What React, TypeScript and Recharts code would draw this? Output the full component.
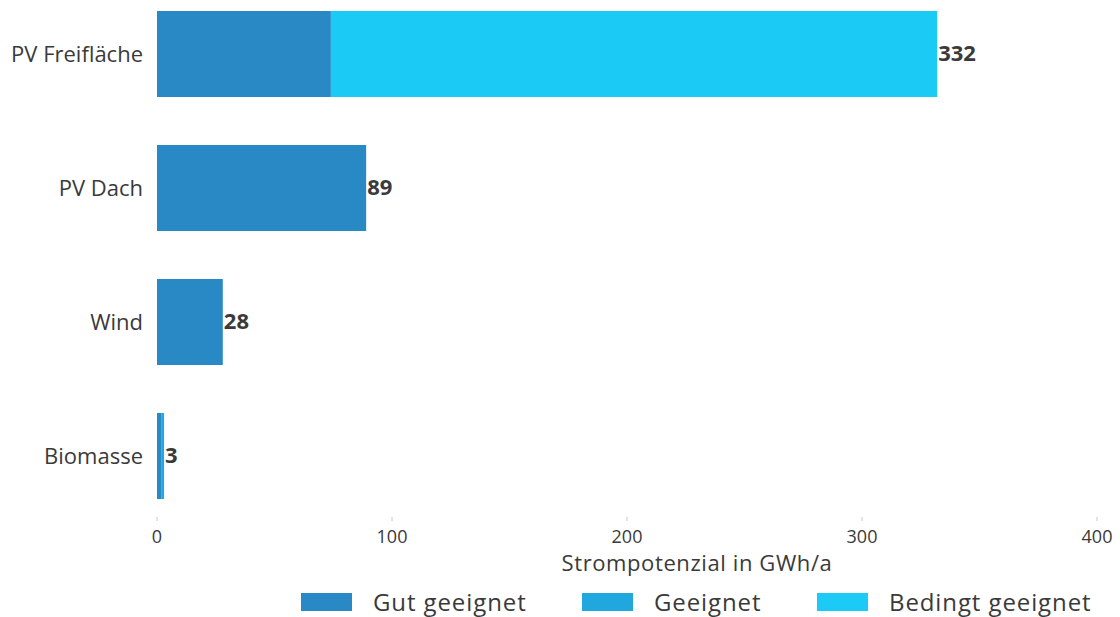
import { BarChart, Bar, XAxis, YAxis, LabelList, Legend } from 'recharts';

// Strompotenzial je Energieträger (GWh/a)
const categories = ['PV Freifläche', 'PV Dach', 'Wind', 'Biomasse'];
const gutGeeignet = [74, 89, 28, 2];
const geeignet = [0, 0, 0, 1];
const bedingtGeeignet = [258, 0, 0, 0];
const xTicks = [0, 100, 200, 300, 400];

const series = [
  { key: 'gut', name: 'Gut geeignet', color: '#2889c5' },
  { key: 'geeignet', name: 'Geeignet', color: '#20a8de' },
  { key: 'bedingt', name: 'Bedingt geeignet', color: '#1ccaf6' },
];

const data = categories.map((name, i) => ({
  name,
  gut: gutGeeignet[i],
  geeignet: geeignet[i],
  bedingt: bedingtGeeignet[i],
  total: gutGeeignet[i] + geeignet[i] + bedingtGeeignet[i],
}));

// outermost non-empty segment per category, where the total goes
const lastSeries: Record<string, number> = {};
data.forEach((d: any) => {
  series.forEach((s, i) => {
    if (d[s.key] > 0) lastSeries[d.name] = i;
  });
});
const totals: Record<string, number> = {};
data.forEach((d) => (totals[d.name] = d.total));

const FONT = '"Open Sans", sans-serif';
const TEXT = '#3a3a3a';

const XTick = (props: any) => {
  const { x, y, payload } = props;
  return (
    <g>
      <line x1={x} x2={x} y1={y - 6} y2={y - 2} stroke="#c8c8c8" strokeWidth={1} />
      <text x={x} y={y + 20} textAnchor="middle" fill={TEXT} fontSize={18} fontFamily={FONT}>
        {payload.value}
      </text>
    </g>
  );
};

const makeTotalLabel = (seriesIndex: number) => (props: any) => {
  const { x, y, width, height, value } = props;
  if (lastSeries[value] !== seriesIndex) return null;
  return (
    <text
      x={x + width + 1}
      y={y + height / 2 - 2}
      dominantBaseline="central"
      fill={TEXT}
      fontSize={22}
      fontWeight={700}
      fontFamily={FONT}
    >
      {totals[value]}
    </text>
  );
};

const AxisTitle = (props: any) => {
  const { viewBox } = props;
  return (
    <text
      x={viewBox.x + viewBox.width / 2 + 70}
      y={viewBox.y + 48}
      textAnchor="middle"
      fill={TEXT}
      fontSize={22}
      letterSpacing={0.6}
      fontFamily={FONT}
    >
      Strompotenzial in GWh/a
    </text>
  );
};

const legendLeft = [301, 582, 817];

const LegendRow = () => (
  <div style={{ position: 'relative', height: 40, fontFamily: FONT, fontSize: 24, color: TEXT }}>
    {series.map((s, i) => (
      <div
        key={s.key}
        style={{
          position: 'absolute',
          left: legendLeft[i],
          top: 12,
          height: 26,
          display: 'flex',
          alignItems: 'center',
        }}
      >
        <span style={{ width: 51, height: 18, background: s.color, marginRight: 21 }} />
        <span style={{ whiteSpace: 'nowrap', lineHeight: '26px', letterSpacing: 0.9 }}>{s.name}</span>
      </div>
    ))}
  </div>
);

export default function App() {
  return (
    <div style={{ position: 'absolute', left: 0, top: 0, background: '#fff' }}>
      <BarChart
        width={1120}
        height={617}
        data={data}
        layout="vertical"
        barCategoryGap={24}
        margin={{ top: -13, right: 23, bottom: 0, left: 0 }}
      >
        <XAxis
          type="number"
          domain={[0, 400]}
          ticks={xTicks}
          axisLine={false}
          tickLine={false}
          tickSize={0}
          tickMargin={0}
          tick={<XTick />}
          height={54}
          label={<AxisTitle />}
        />
        <YAxis
          type="category"
          dataKey="name"
          width={157}
          axisLine={false}
          tickLine={false}
          tickSize={6}
          tickMargin={8}
          tick={{ fill: TEXT, fontSize: 22, fontFamily: FONT }}
        />
        <Legend verticalAlign="bottom" content={<LegendRow />} />
        {series.map((s, i) => (
          <Bar key={s.key} dataKey={s.key} name={s.name} stackId="a" fill={s.color} isAnimationActive={false}>
            <LabelList dataKey="name" content={makeTotalLabel(i)} />
          </Bar>
        ))}
      </BarChart>
    </div>
  );
}
